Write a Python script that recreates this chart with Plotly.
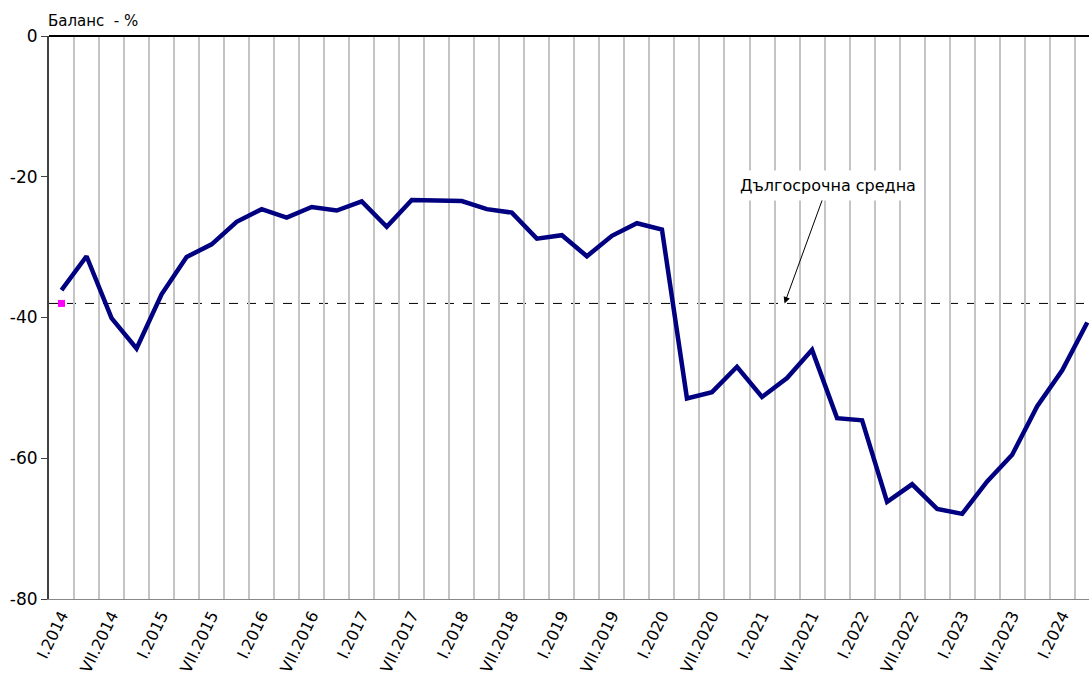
import plotly.graph_objects as go

# Quarterly data: I.2014 ... IV.2024
quarters = []
for yr in range(2014, 2025):
    for m in ["I", "IV", "VII", "X"]:
        quarters.append(f"{m}.{yr}")
quarters = quarters[:42]

balance = [-36.1, -31.3, -40.1, -44.4, -36.7, -31.4, -29.6, -26.4, -24.6, -25.8,
           -24.3, -24.8, -23.5, -27.1, -23.3, -23.4, -23.45, -24.6, -25.1, -28.8,
           -28.3, -31.3, -28.4, -26.6, -27.5, -51.5, -50.6, -47.0, -51.3, -48.6,
           -44.6, -54.3, -54.6, -66.2, -63.7, -67.2, -67.9, -63.3, -59.5, -52.6,
           -47.5, -40.7]

long_term_avg = -38.0
avg_label = "Дългосрочна средна"
y_title = "Баланс\u00a0 - %"
y_ticks = [0, -20, -40, -60, -80]
y_tick_text = ["0", "-20", "-40", "-60", "-80"]

x_idx = list(range(len(quarters)))
tick_idx = x_idx[::2]
tick_text = quarters[::2]

FONT = "DejaVu Sans"

fig = go.Figure()
fig.add_trace(go.Scatter(
    x=x_idx, y=balance, mode="lines",
    line=dict(color="#000080", width=4.5),
    showlegend=False, hoverinfo="skip"))
fig.add_trace(go.Scatter(
    x=[x_idx[0]], y=[long_term_avg], mode="markers",
    marker=dict(symbol="square", color="#ff00ff", size=7),
    showlegend=False, hoverinfo="skip"))

fig.add_shape(type="line", xref="paper", x0=0, x1=1, yref="y",
              y0=long_term_avg, y1=long_term_avg,
              line=dict(color="black", width=1, dash="dash"), layer="below")

fig.add_annotation(x=28.9, y=long_term_avg, xref="x", yref="y",
                   text=avg_label, showarrow=True, arrowhead=2, arrowsize=1.3,
                   arrowwidth=1, arrowcolor="black", ax=43, ay=-118,
                   axref="pixel", ayref="pixel", bgcolor="white",
                   font=dict(family=FONT, size=16, color="black"),
                   borderpad=5, standoff=0)

fig.add_annotation(xref="paper", yref="paper", x=0, y=1, xanchor="left",
                   yanchor="bottom", yshift=4, xshift=-3, text=y_title, showarrow=False,
                   font=dict(family=FONT, size=15, color="black"))

fig.update_layout(
    width=1089, height=678,
    margin=dict(l=49, r=0, t=36, b=79),
    plot_bgcolor="white", paper_bgcolor="white",
    font=dict(family=FONT, size=17, color="black"),
    xaxis=dict(
        range=[-0.5, 41.07], tickmode="array", tickvals=tick_idx, ticktext=tick_text,
        tickangle=-64, showgrid=False, zeroline=False, ticks="", automargin=False,
        showline=True, linecolor="#888888", linewidth=1,
        tickfont=dict(family=FONT, size=16, color="black"),
        minor=dict(tickmode="array", tickvals=[i + 0.5 for i in x_idx[:-1]],
                   showgrid=True, gridcolor="#c4c4c4", gridwidth=1.5, ticks=""),
    ),
    yaxis=dict(
        range=[-80, 0], tickmode="array", tickvals=y_ticks, ticktext=y_tick_text,
        showgrid=False, zeroline=True, zerolinecolor="black", zerolinewidth=2,
        showline=True, linecolor="#404040", linewidth=2, automargin=False,
        ticks="outside", ticklen=6, tickcolor="#404040", tickwidth=1,
        tickfont=dict(family=FONT, size=17, color="black"),
    ),
)

fig.write_html("out.html", config={"displayModeBar": False},
               post_script="document.body.style.margin='0';document.body.style.overflow='hidden';")
